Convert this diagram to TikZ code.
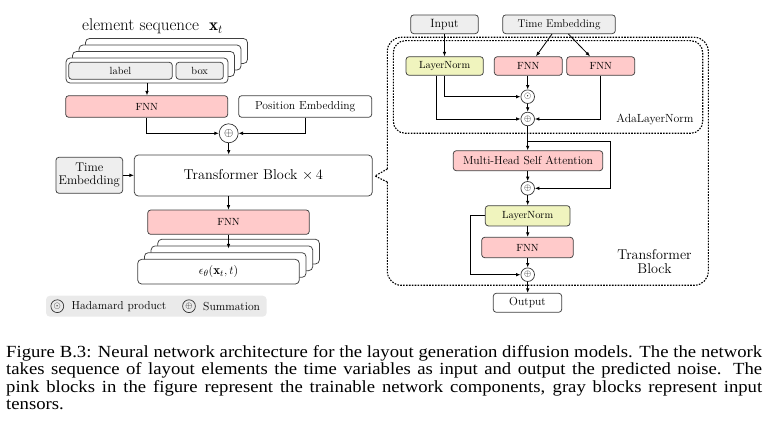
\documentclass[tikz,border=0pt]{standalone}
\usepackage{fontspec}
\newfontfamily\capfont[FakeStretch=1.1]{Liberation Serif}
\usetikzlibrary{arrows.meta,calc}
\definecolor{pinkc}{RGB}{255,202,202}
\definecolor{yellowc}{RGB}{240,244,190}
\definecolor{grayc}{RGB}{238,238,238}
\definecolor{legendc}{RGB}{234,234,234}
\newcommand\fsS{\fontsize{10.4}{12}\selectfont}
\newcommand\fsM{\fontsize{11.6}{13}\selectfont}
\newcommand\fsL{\fontsize{14.3}{14.5}\selectfont}
\begin{document}
\begin{tikzpicture}[x=1pt,y=-1pt,
  bx/.style={draw=black!75, line width=0.75pt, rounded corners=3pt, inner sep=0pt, align=center},
  pk/.style={bx, fill=pinkc},
  gy/.style={bx, fill=grayc},
  yl/.style={bx, fill=yellowc},
  wt/.style={bx, fill=white},
  op/.style={circle, draw=black!80, line width=0.7pt, fill=white, inner sep=0pt, minimum size=13.6pt, font=\fontsize{9.5}{9.5}\selectfont},
  arr/.style={-{Latex[length=4.5pt,width=3.6pt]}, line width=0.8pt},
  dl/.style={line width=1.1pt, dash pattern=on 1.6pt off 1.3pt},
]
\useasboundingbox (0,0) rectangle (769,430);

% ---------------- left part ----------------
\node[anchor=base, inner sep=0pt, font=\fontsize{17}{17}\selectfont] (title) at (152.5,31) {element sequence\ \ $\mathbf{x}_t$};

\foreach \k in {3,2,1}{
  \node[wt, rounded corners=4pt, minimum width=162pt, minimum height=25pt] (seq\k) at ({147+6.5*\k},{70.5-6.5*\k}) {};
}
\node[wt, rounded corners=4pt, minimum width=162pt, minimum height=25pt] (seq0) at (147,70.5) {};
\node[gy, minimum width=103.6pt, minimum height=17pt, font=\fsS] (lab) at (120.5,70.8) {label};
\node[gy, minimum width=47.3pt, minimum height=17pt, font=\fsS] (bbox) at (199.7,70.8) {box};

\node[pk, minimum width=162pt, minimum height=21.6pt, font=\fsS] (fnnA) at (146.7,106.5) {FNN};
\node[wt, minimum width=133pt, minimum height=21.6pt, font=\fsM] (pos) at (305.2,106.5) {Position Embedding};
\node[op, minimum size=19pt, font=\fontsize{12}{12}\selectfont] (plusA) at (228.7,133.3) {$\oplus$};

\node[wt, rounded corners=4pt, minimum width=238pt, minimum height=41pt, font=\fsL] (trans) at (253.3,175.5) {Transformer Block $\times\, 4$};
\node[gy, minimum width=66.7pt, minimum height=36pt, font=\fontsize{12.6}{13}\selectfont] (timeL) at (89.3,175.3) {Time\\Embedding};

\node[pk, minimum width=161.6pt, minimum height=24.3pt, font=\fsS] (fnnB) at (228.5,222.2) {FNN};

\foreach \k in {3,2,1}{
  \node[wt, rounded corners=4pt, minimum width=161.6pt, minimum height=24.7pt] (out\k) at ({218.5+6.7*\k},{271.7-6.7*\k}) {};
}
\node[wt, rounded corners=4pt, minimum width=161.6pt, minimum height=24.7pt, font=\fontsize{13}{13}\selectfont] (out0) at (218.5,271.7) {$\epsilon_\theta(\mathbf{x}_t, t)$};
\coordinate (outin) at (228.5,248.5);

% legend
\node[fill=legendc, rounded corners=4pt, minimum width=220.7pt, minimum height=21pt, inner sep=0pt] (legend) at (156.35,306.2) {};
\node[op, minimum size=12.8pt, fill=legendc] (lgodot) at (57.3,306.2) {$\odot$};
\node[anchor=west, inner sep=0pt, font=\fsM] (lgh) at (71.5,306.2) {Hadamard product};
\node[op, minimum size=12.8pt, fill=legendc] (lgoplus) at (189,306.2) {$\oplus$};
\node[anchor=west, inner sep=0pt, font=\fsM] (lgs) at (203,306.2) {Summation};

% left connectors
\draw[arr] (seq0.south) -- (seq0.south |- fnnA.north);
\draw[arr] (fnnA.south) |- (plusA.west);
\draw[arr] (pos.south) |- (plusA.east);
\draw[arr] (plusA.south) -- (plusA.south |- trans.north);
\draw[arr] (timeL.east) -- (timeL.east -| trans.west);
\draw[arr] (fnnB.north |- trans.south) -- (fnnB.north);
\draw[arr] (fnnB.south) -- (outin);

% ---------------- right part ----------------
\draw[dl, rounded corners=12pt] (393.3,40.7) rectangle (702.7,133.3);
\draw[dl, rounded corners=14pt] (387.3,169) -- (387.3,37.3) -- (708.3,37.3) -- (708.3,285.3) -- (387.3,285.3) -- (387.3,182);
\draw[dl] (387.3,169) -- (375,176) -- (387.3,182);

\node[gy, minimum width=67.6pt, minimum height=18.7pt, font=\fontsize{12}{12}\selectfont] (inp) at (444.5,24.3) {Input};
\node[gy, minimum width=112.6pt, minimum height=18.7pt, font=\fontsize{11.2}{12}\selectfont] (te) at (559,24.3) {Time Embedding};
\node[yl, minimum width=77.3pt, minimum height=18.6pt, font=\fsS] (lnA) at (444.7,66) {LayerNorm};
\node[pk, minimum width=68pt, minimum height=18.6pt, font=\fsS] (fa) at (528.3,66) {FNN};
\node[pk, minimum width=68pt, minimum height=18.6pt, font=\fsS] (fb) at (600.7,66) {FNN};
\node[op] (odot) at (527.7,96.7) {$\odot$};
\node[op] (plusB) at (527.7,119) {$\oplus$};
\node[inner sep=0pt, font=\fontsize{11.8}{12}\selectfont] (ada) at (655,119.5) {AdaLayerNorm};

\node[pk, minimum width=149.4pt, minimum height=20pt, font=\fsM] (mhsa) at (528,160.7) {Multi-Head Self Attention};
\node[op] (plusC) at (527.7,188.3) {$\oplus$};
\node[yl, minimum width=84.7pt, minimum height=20.3pt, font=\fsS] (lnB) at (527.7,215.8) {LayerNorm};
\node[pk, minimum width=91.6pt, minimum height=20.4pt, font=\fsS] (fnnC) at (527.5,247.5) {FNN};
\node[op] (plusD) at (527.7,274.7) {$\oplus$};
\node[wt, minimum width=68.4pt, minimum height=19pt, font=\fsM] (outp) at (527.5,302.8) {Output};
\node[inner sep=0pt, align=center, font=\fontsize{14.2}{14}\selectfont] (tbl) at (654.5,261.5) {Transformer\\Block};

% right connectors
\draw[arr] (inp.south) -- (inp.south |- lnA.north);
\draw[arr] (te) -- ([xshift=7.7pt]fa.north);
\draw[arr] (te) -- ([xshift=-10.7pt]fb.north);
\draw[arr] (fa.south -| odot.north) -- (odot.north);
\draw[arr] (odot.south) -- (plusB.north);
\draw[arr] (lnA.south) |- (odot.west);
\draw[arr] ([xshift=-8.7pt]lnA.south) |- (plusB.west);
\draw[arr] (fb.south) |- (plusB.east);
\draw[arr] (plusB.south) -- (plusB.south |- mhsa.north);
\coordinate (rA) at (527.7,141.7);
\coordinate (rAc) at (610,141.7);
\draw[arr] (rA) -- (rAc) |- (plusC.east);
\draw[arr] (plusC.south |- mhsa.south) -- (plusC.north);
\draw[arr] (plusC.south) -- (plusC.south |- lnB.north);
\draw[arr] (lnB.south) -- (lnB.south |- fnnC.north);
\draw[arr] (plusD.north |- fnnC.south) -- (plusD.north);
\coordinate (rBc) at (470.7,215.8);
\draw[arr] (lnB.west) -- (rBc) |- (plusD.west);
\draw[arr] (plusD.south) -- (plusD.south |- outp.north);

% ---------------- caption ----------------
\node[anchor=base west, inner sep=0pt] (cap) at (6,357.5) {\parbox[t]{756pt}{\capfont\fontsize{17}{17.5}\selectfont
Figure B.3: Neural network architecture for the layout generation diffusion models. The the network\linebreak
takes sequence of layout elements the time variables as input and output the predicted noise. The\linebreak
pink blocks in the figure represent the trainable network components, gray blocks represent input\linebreak
tensors.}};
\end{tikzpicture}
\end{document}
